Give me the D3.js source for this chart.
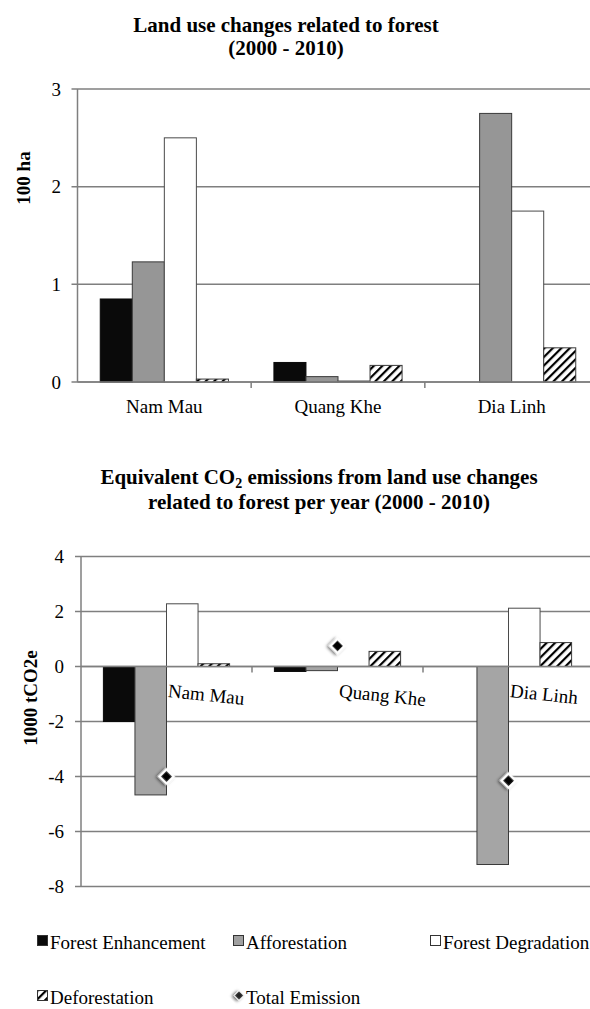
<!DOCTYPE html>
<html>
<head>
<meta charset="utf-8">
<script src="https://cdn.jsdelivr.net/npm/d3@7"></script>
<style>
  html, body { margin: 0; padding: 0; background: #fff; }
  svg { display: block; }
  text { font-family: "Liberation Serif", "Times New Roman", "DejaVu Serif", serif; fill: #000; }
</style>
</head>
<body>
<svg id="chart" width="590" height="1009"></svg>
<script>
// ---------- data ----------
const categories = ["Nam Mau", "Quang Khe", "Dia Linh"];
const seriesNames = ["Forest Enhancement", "Afforestation", "Forest Degradation", "Deforestation"];

// Chart 1: land use changes (100 ha)
const landForestEnhancement = [0.85, 0.20, 0.0];
const landAfforestation     = [1.23, 0.055, 2.75];
const landForestDegradation = [2.50, 0.01, 1.75];
const landDeforestation     = [0.03, 0.17, 0.35];
const landTicks = [0, 1, 2, 3];

// Chart 2: equivalent CO2 emissions (1000 tCO2e)
const emForestEnhancement = [-2.0, -0.18, 0.0];
const emAfforestation     = [-4.67, -0.15, -7.2];
const emForestDegradation = [2.28, 0.0, 2.12];
const emDeforestation     = [0.10, 0.55, 0.87];
const emTotal             = [-4.0, 0.75, -4.15];
const emTicks = [4, 2, 0, -2, -4, -6, -8];

const legendRow1 = ["Forest Enhancement", "Afforestation", "Forest Degradation"];
const legendRow2 = ["Deforestation", "Total Emission"];

// ---------- setup ----------
const svg = d3.select("#chart");
const FONT = '"Liberation Serif", "Times New Roman", "DejaVu Serif", serif';
const GRID = "#7f7f7f";

const defs = svg.append("defs");
const pat = defs.append("pattern")
  .attr("id", "hatch").attr("patternUnits", "userSpaceOnUse")
  .attr("width", 6).attr("height", 6)
  .attr("patternTransform", "rotate(45)");
pat.append("rect").attr("width", 6).attr("height", 6).attr("fill", "#fff");
pat.append("line").attr("x1", 1).attr("y1", 0).attr("x2", 1).attr("y2", 6)
  .attr("stroke", "#000").attr("stroke-width", 2.4);

const flt = defs.append("filter").attr("id", "shadow")
  .attr("x", "-60%").attr("y", "-60%").attr("width", "220%").attr("height", "220%");
flt.append("feDropShadow").attr("dx", -1).attr("dy", 2).attr("stdDeviation", 1.6)
  .attr("flood-color", "#000").attr("flood-opacity", 0.55);

function fillFor(i, gray) {
  return [ "#0a0a0a", gray, "#ffffff", "url(#hatch)" ][i];
}
function strokeFor(i) {
  return [ "#0a0a0a", "#3a3a3a", "#4a4a4a", "#3a3a3a" ][i];
}

function drawChart(opts) {
  const { data, ticks, yDomain, yRange, xRange, gray, tickX } = opts;
  const g = svg.append("g");
  const x0 = d3.scaleBand().domain(categories).range(xRange).paddingInner(0).paddingOuter(0);
  const x1 = d3.scaleBand().domain(seriesNames).range([0, x0.bandwidth()]).paddingInner(0).paddingOuter(0.71);
  const y = d3.scaleLinear().domain(yDomain).range(yRange);

  // gridlines
  g.append("g").selectAll("line").data(ticks).join("line")
    .attr("x1", xRange[0] - 6).attr("x2", 600)
    .attr("y1", d => y(d)).attr("y2", d => y(d))
    .attr("stroke", GRID).attr("stroke-width", 1.5);

  // y axis line
  g.append("line").attr("x1", xRange[0]).attr("x2", xRange[0])
    .attr("y1", y(yDomain[1])).attr("y2", y(yDomain[0]))
    .attr("stroke", GRID).attr("stroke-width", 1.5);

  // tick labels
  g.append("g").selectAll("text").data(ticks).join("text")
    .attr("x", tickX).attr("y", d => y(d)).attr("dy", "0.35em")
    .attr("text-anchor", "end").attr("font-size", 19).attr("font-family", FONT)
    .text(d => d);

  // bars
  const rows = [];
  data.forEach((vals, si) => vals.forEach((v, ci) => rows.push({ s: si, c: ci, v })));
  g.append("g").selectAll("rect").data(rows).join("rect")
    .attr("x", d => x0(categories[d.c]) + x1(seriesNames[d.s]))
    .attr("width", x1.bandwidth())
    .attr("y", d => Math.min(y(d.v), y(0)))
    .attr("height", d => Math.abs(y(d.v) - y(0)))
    .attr("fill", d => fillFor(d.s, gray))
    .attr("stroke", d => strokeFor(d.s))
    .attr("stroke-width", 1);

  // zero axis line
  g.append("line").attr("x1", xRange[0]).attr("x2", 600)
    .attr("y1", y(0)).attr("y2", y(0))
    .attr("stroke", GRID).attr("stroke-width", 1.5);
  // category boundary ticks
  const bounds = categories.slice(1).map(c => x0(c));
  g.append("g").selectAll("line").data(bounds).join("line")
    .attr("x1", d => d).attr("x2", d => d)
    .attr("y1", y(0)).attr("y2", y(0) + 6)
    .attr("stroke", GRID).attr("stroke-width", 1.5);

  return { g, x0, x1, y };
}

// ---------- chart 1 ----------
svg.append("text").attr("x", 286).attr("y", 31.5).attr("text-anchor", "middle").attr("font-family", FONT)
  .attr("font-size", 21).attr("font-weight", "bold").text("Land use changes related to forest");
svg.append("text").attr("x", 286).attr("y", 55).attr("text-anchor", "middle").attr("font-family", FONT)
  .attr("font-size", 21).attr("font-weight", "bold").text("(2000 - 2010)");

const c1 = drawChart({
  data: [landForestEnhancement, landAfforestation, landForestDegradation, landDeforestation],
  ticks: landTicks, yDomain: [0, 3], yRange: [382, 89], xRange: [77.5, 598.5],
  gray: "#969696", tickX: 61
});
c1.g.append("g").selectAll("text").data(categories).join("text")
  .attr("x", d => c1.x0(d) + c1.x0.bandwidth() / 2).attr("y", 413)
  .attr("text-anchor", "middle").attr("font-size", 19).attr("font-family", FONT).text(d => d);
svg.append("text").attr("transform", "translate(30,178) rotate(-90)").attr("font-family", FONT)
  .attr("text-anchor", "middle").attr("font-size", 19).attr("font-weight", "bold").text("100 ha");

// ---------- chart 2 ----------
const t2 = svg.append("text").attr("x", 319).attr("y", 484).attr("text-anchor", "middle")
  .attr("font-family", FONT).attr("font-size", 21).attr("font-weight", "bold");
t2.append("tspan").text("Equivalent CO");
t2.append("tspan").attr("font-size", 14).attr("dy", 4).text("2");
t2.append("tspan").attr("dy", -4).text(" emissions from land use changes");
svg.append("text").attr("x", 319).attr("y", 509).attr("text-anchor", "middle").attr("font-family", FONT)
  .attr("font-size", 21).attr("font-weight", "bold").text("related to forest per year (2000 - 2010)");

const c2 = drawChart({
  data: [emForestEnhancement, emAfforestation, emForestDegradation, emDeforestation],
  ticks: emTicks, yDomain: [-8, 4], yRange: [886.5, 556.5], xRange: [81, 594],
  gray: "#a5a5a5", tickX: 64
});
c2.g.append("g").selectAll("text").data(categories).join("text")
  .attr("transform", d => `translate(${c2.x0(d) + c2.x0.bandwidth() / 2 + 1},697) rotate(6)`)
  .attr("text-anchor", "start").attr("font-size", 19).attr("font-family", FONT).text(d => d);

// total emission diamonds
c2.g.append("g").selectAll("path").data(emTotal).join("path")
  .attr("d", d3.symbol().type(d3.symbolSquare).size(105))
  .attr("transform", (d, i) => `translate(${c2.x0(categories[i]) + c2.x0.bandwidth() / 2},${c2.y(d)}) rotate(45)`)
  .attr("fill", "#000").attr("stroke", "#fff").attr("stroke-width", 2.5)
  .attr("filter", "url(#shadow)");

svg.append("text").attr("transform", "translate(37,698) rotate(-90)").attr("font-family", FONT)
  .attr("text-anchor", "middle").attr("font-size", 19).attr("font-weight", "bold").text("1000 tCO2e");

// ---------- legend ----------
const legX = [37, 233, 430];
const legRowY = [949, 1004];
const lg = svg.append("g");
const legItems = [
  { name: legendRow1[0], col: 0, row: 0, kind: "rect", fill: "#0a0a0a" },
  { name: legendRow1[1], col: 1, row: 0, kind: "rect", fill: "#a0a0a0" },
  { name: legendRow1[2], col: 2, row: 0, kind: "rect", fill: "#ffffff" },
  { name: legendRow2[0], col: 0, row: 1, kind: "rect", fill: "url(#hatch)" },
  { name: legendRow2[1], col: 1, row: 1, kind: "diamond", fill: "#000" }
];
legItems.forEach(it => {
  const x = legX[it.col], yb = legRowY[it.row];
  if (it.kind === "rect") {
    lg.append("rect").attr("x", x + 0.5).attr("y", yb - 13.5).attr("width", 10).attr("height", 10)
      .attr("fill", it.fill).attr("stroke", "#333").attr("stroke-width", 1);
  } else {
    lg.append("path").attr("d", d3.symbol().type(d3.symbolSquare).size(45))
      .attr("transform", `translate(${x + 6},${yb - 8.5}) rotate(45)`)
      .attr("fill", "#222").attr("stroke", "#fff").attr("stroke-width", 1)
      .attr("filter", "url(#shadow)");
  }
  lg.append("text").attr("x", x + 13).attr("y", yb).attr("font-size", 19).attr("font-family", FONT).text(it.name);
});
</script>
</body>
</html>
